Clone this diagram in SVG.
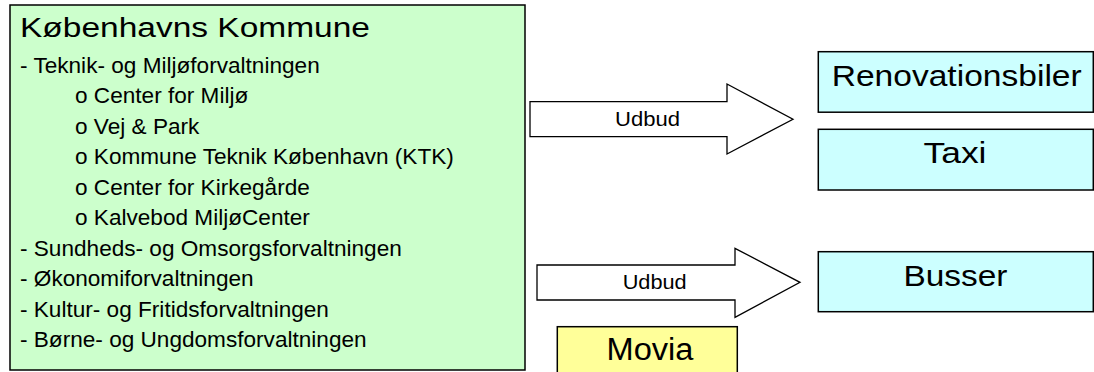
<svg xmlns="http://www.w3.org/2000/svg" width="1094" height="372" viewBox="0 0 1094 372">
<style>
.box{stroke:#000;stroke-width:1.5}
.green{fill:#ccffcc}
.cyan{fill:#ccffff}
.yellow{fill:#ffff99}
.arrow{fill:#fff;stroke:#000;stroke-width:1.3;stroke-linejoin:miter}
text{font-family:"Liberation Sans",Arial,sans-serif;fill:#000}
.body{font-size:22.6px}
.big{font-size:29px}
.lbl{font-size:21px}
</style>
<rect width="1094" height="372" fill="#fff"/>
<g id="kommune">
<rect class="box green" x="10" y="5" width="515" height="365"/>
<text x="20" y="37" font-size="27" textLength="350" lengthAdjust="spacingAndGlyphs">Københavns Kommune</text>
<text class="body" x="20" y="73">- Teknik- og Miljøforvaltningen</text>
<text class="body" x="75" y="103.4">o Center for Miljø</text>
<text class="body" x="75" y="133.9">o Vej &amp; Park</text>
<text class="body" x="75" y="164.3">o Kommune Teknik København (KTK)</text>
<text class="body" x="75" y="194.8">o Center for Kirkegårde</text>
<text class="body" x="75" y="225.2">o Kalvebod MiljøCenter</text>
<text class="body" x="20" y="255.7">- Sundheds- og Omsorgsforvaltningen</text>
<text class="body" x="20" y="286.1">- Økonomiforvaltningen</text>
<text class="body" x="20" y="316.6">- Kultur- og Fritidsforvaltningen</text>
<text class="body" x="20" y="347">- Børne- og Ungdomsforvaltningen</text>
</g>
<g id="connectors">
<g id="udbud1">
<polygon class="arrow" points="530,101.7 727,101.7 727,84 793,119.3 727,154 727,136.7 530,136.7"/>
<text class="lbl" x="647.5" y="126" text-anchor="middle" textLength="65" lengthAdjust="spacingAndGlyphs">Udbud</text>
</g>
<g id="udbud2">
<polygon class="arrow" points="537,265 735,265 735,248.3 800,282.3 735,317.3 735,300 537,300"/>
<text class="lbl" x="654.7" y="289.3" text-anchor="middle" textLength="64" lengthAdjust="spacingAndGlyphs">Udbud</text>
</g>
</g>
<g id="renovationsbiler">
<rect class="box cyan" x="818.3" y="51.7" width="275" height="60.5"/>
<text class="big" x="956.7" y="86" text-anchor="middle" textLength="250" lengthAdjust="spacingAndGlyphs">Renovationsbiler</text>
</g>
<g id="taxi">
<rect class="box cyan" x="818.3" y="129.3" width="275" height="60.7"/>
<text class="big" x="955" y="163.3" text-anchor="middle" textLength="63" lengthAdjust="spacingAndGlyphs">Taxi</text>
</g>
<g id="busser">
<rect class="box cyan" x="818.3" y="251.7" width="275" height="60"/>
<text class="big" x="955.5" y="286" text-anchor="middle" textLength="104" lengthAdjust="spacingAndGlyphs">Busser</text>
</g>
<g id="movia">
<rect class="box yellow" x="557.3" y="326.7" width="180" height="50"/>
<text x="650" y="360" font-size="31" text-anchor="middle" textLength="87" lengthAdjust="spacingAndGlyphs">Movia</text>
</g>
</svg>
